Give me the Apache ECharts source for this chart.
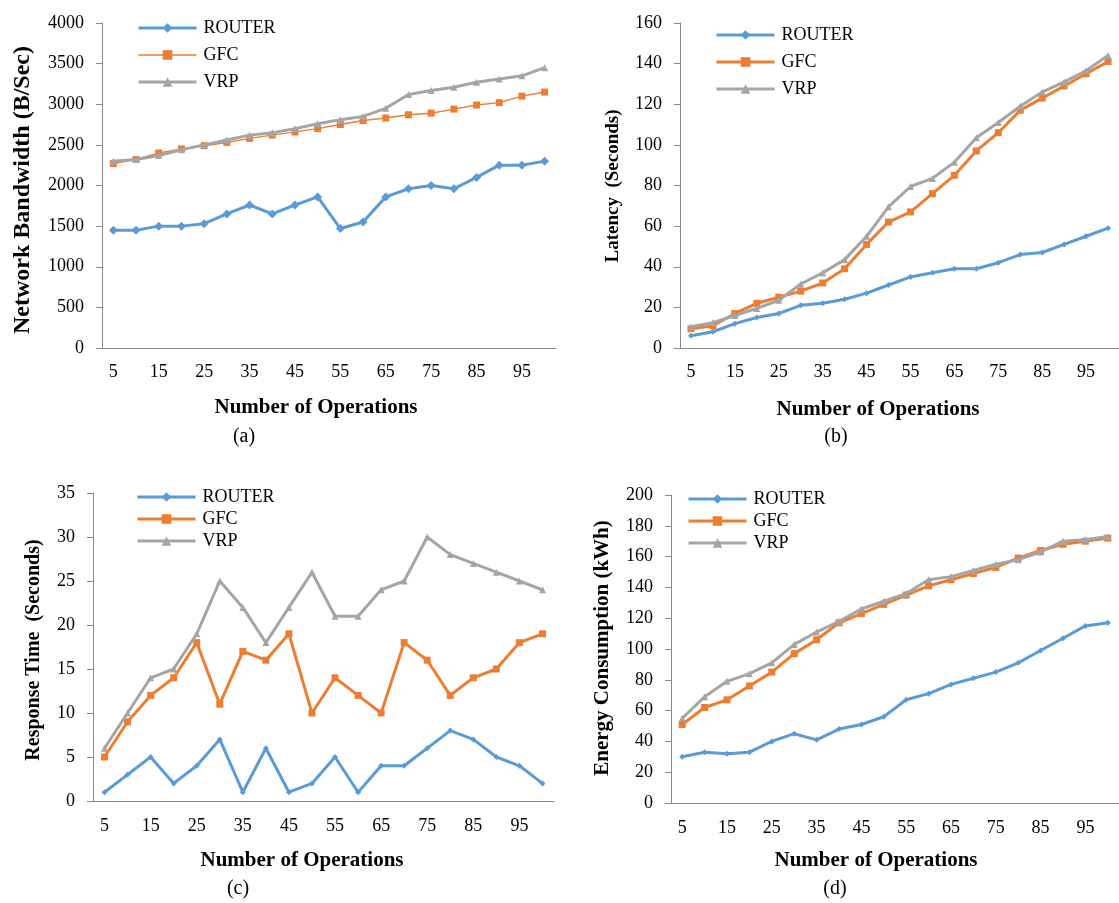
<!DOCTYPE html>
<html>
<head>
<meta charset="utf-8">
<script src="https://cdn.jsdelivr.net/npm/echarts@6/dist/echarts.min.js"></script>
<style>
html,body{margin:0;padding:0;background:#fff;}
#chart{width:1119px;height:903px;}
</style>
</head>
<body>
<div id="chart"></div>
<script>
// ---------------- data ----------------
var operations = ['5','10','15','20','25','30','35','40','45','50','55','60','65','70','75','80','85','90','95','100'];
var seriesNames = ['ROUTER','GFC','VRP'];

// (a) Network Bandwidth (B/Sec)
var bwRouter = [1450,1450,1500,1500,1530,1650,1760,1650,1760,1860,1470,1550,1860,1960,2000,1960,2100,2250,2250,2300];
var bwGfc    = [2270,2320,2400,2450,2490,2530,2580,2620,2660,2700,2750,2800,2830,2870,2890,2940,2990,3020,3100,3150];
var bwVrp    = [2300,2320,2370,2440,2500,2560,2620,2650,2700,2760,2810,2850,2950,3120,3170,3210,3270,3310,3350,3450];

// (b) Latency (Seconds)
var latRouter = [6,8,12,15,17,21,22,24,27,31,35,37,39,39,42,46,47,51,55,59];
var latGfc    = [9.5,11,17,22,25,28,32,39,51,62,67,76,85,97,106,117,123,129,135,141];
var latVrp    = [10.5,12.5,16,19.5,23.5,31.5,37,43.5,55,69.5,79.5,83.5,91.5,103.5,111,119,126,131,136.5,144];

// (c) Response Time (Seconds)
var rtRouter = [1,3,5,2,4,7,1,6,1,2,5,1,4,4,6,8,7,5,4,2];
var rtGfc    = [5,9,12,14,18,11,17,16,19,10,14,12,10,18,16,12,14,15,18,19];
var rtVrp    = [6,10,14,15,19,25,22,18,22,26,21,21,24,25,30,28,27,26,25,24];

// (d) Energy Consumption (kWh)
var enRouter = [30,33,32,33,40,45,41,48,51,56,67,71,77,81,85,91,99,107,115,117];
var enGfc    = [51,62,67,76,85,97,106,117,123,129,135,141,145,149,153,159,164,168,170,172];
var enVrp    = [55,69,79,84,91,103,111,118,126,131,136,145,147,151,155,158,163,170,171,173];

// y-axis ranges [min, max, interval]
var yRangeA = [0, 4000, 500];
var yRangeB = [0, 160, 20];
var yRangeC = [0, 35, 5];
var yRangeD = [0, 200, 20];

var yTitles = ['Network Bandwidth (B/Sec)', 'Latency  (Seconds)', 'Response Time  (Seconds)', 'Energy Consumption (kWh)'];
var xTitle = 'Number of Operations';
var captions = ['(a)', '(b)', '(c)', '(d)'];

// ---------------- styling ----------------
var FONT = 'Liberation Serif';
var C_BLUE = '#5B9BD5', C_ORANGE = '#ED7D31', C_GRAY = '#A5A5A5';
var AXIS_C = '#898989';

var grids = [
  {left: 102, top: 23, width: 454, height: 325},
  {left: 680, top: 23, width: 451, height: 325},
  {left: 93, top: 493, width: 461, height: 308},
  {left: 671, top: 495, width: 463, height: 308}
];

function xAxisOf(i, margin) {
  return {
    type: 'category', gridIndex: i, data: operations, boundaryGap: true,
    axisLine: {show: true, lineStyle: {color: AXIS_C, width: 1}},
    axisTick: {show: false},
    axisLabel: {interval: 1, color: '#000', fontFamily: FONT, fontSize: 18, margin: margin},
    splitLine: {show: false}
  };
}
function yAxisOf(i, r) {
  return {
    type: 'value', gridIndex: i, min: r[0], max: r[1], interval: r[2],
    axisLine: {show: true, lineStyle: {color: AXIS_C, width: 1}},
    axisTick: {show: true, inside: false, length: 6, lineStyle: {color: AXIS_C}},
    axisLabel: {color: '#000', fontFamily: FONT, fontSize: 18, margin: 18,
      formatter: function (v) { return String(v); }},
    splitLine: {show: false}
  };
}

var markerDefs = {
  ROUTER: {symbol: 'diamond', color: C_BLUE},
  GFC: {symbol: 'rect', color: C_ORANGE},
  VRP: {symbol: 'triangle', color: C_GRAY}
};

function mkSeries(name, gi, data, lw, size) {
  var m = markerDefs[name];
  return {
    name: name, type: 'line', xAxisIndex: gi, yAxisIndex: gi, data: data,
    symbol: m.symbol, symbolSize: size, showSymbol: true,
    lineStyle: {color: m.color, width: lw},
    itemStyle: {color: m.color},
    emphasis: {disabled: true}, animation: false, z: name === 'ROUTER' ? 3 : (name === 'GFC' ? 2 : 4)
  };
}

function legendOf(left, top, gap, widths) {
  return {
    orient: 'vertical', left: left, top: top, padding: 0, itemGap: gap,
    itemWidth: 58, itemHeight: 12,
    textStyle: {fontFamily: FONT, fontSize: 18, color: '#000', lineHeight: 18, padding: [0, 0, 0, 2]},
    selectedMode: false,
    data: seriesNames.map(function (n, k) {
      return {name: n, lineStyle: {width: widths[k]}};
    })
  };
}

function txt(x, y, s, size, bold, rot) {
  return {
    type: 'text', x: x, y: y, rotation: rot || 0, silent: true,
    style: {text: s, fontFamily: FONT, fontSize: size, fontWeight: bold ? 'bold' : 'normal',
      fill: '#000', align: 'center', verticalAlign: 'middle'}
  };
}

var option = {
  backgroundColor: '#fff',
  animation: false,
  grid: grids,
  xAxis: [xAxisOf(0, 15), xAxisOf(1, 15), xAxisOf(2, 16), xAxisOf(3, 16)],
  yAxis: [yAxisOf(0, yRangeA), yAxisOf(1, yRangeB), yAxisOf(2, yRangeC), yAxisOf(3, yRangeD)],
  legend: [
    legendOf(137, 19, 9, [3, 1.5, 3]),
    legendOf(715, 26, 9, [3, 3, 3]),
    legendOf(136, 488, 4, [3, 3, 3]),
    legendOf(687, 490, 4, [3, 3, 3])
  ],
  series: [
    mkSeries('ROUTER', 0, bwRouter, 3, 9),
    mkSeries('GFC', 0, bwGfc, 1.5, 7),
    mkSeries('VRP', 0, bwVrp, 3, 7),
    mkSeries('ROUTER', 1, latRouter, 3, 6),
    mkSeries('GFC', 1, latGfc, 3, 7),
    mkSeries('VRP', 1, latVrp, 3, 7),
    mkSeries('ROUTER', 2, rtRouter, 3, 6),
    mkSeries('GFC', 2, rtGfc, 3, 7),
    mkSeries('VRP', 2, rtVrp, 3, 7),
    mkSeries('ROUTER', 3, enRouter, 3, 6),
    mkSeries('GFC', 3, enGfc, 3, 7),
    mkSeries('VRP', 3, enVrp, 3, 7)
  ],
  graphic: [
    txt(23, 190, yTitles[0], 24, true, Math.PI / 2),
    txt(613, 186, yTitles[1], 19, true, Math.PI / 2),
    txt(34, 650, yTitles[2], 20, true, Math.PI / 2),
    txt(603, 648, yTitles[3], 21, true, Math.PI / 2),
    txt(316, 408, xTitle, 21, true),
    txt(878, 410, xTitle, 21, true),
    txt(302, 861, xTitle, 21, true),
    txt(876, 861, xTitle, 21, true),
    txt(244, 437, captions[0], 20, false),
    txt(836, 437, captions[1], 20, false),
    txt(238, 889, captions[2], 20, false),
    txt(835, 889, captions[3], 20, false)
  ]
};

var chart = echarts.init(document.getElementById('chart'), null, {renderer: 'canvas'});
chart.setOption(option);
</script>
</body>
</html>
